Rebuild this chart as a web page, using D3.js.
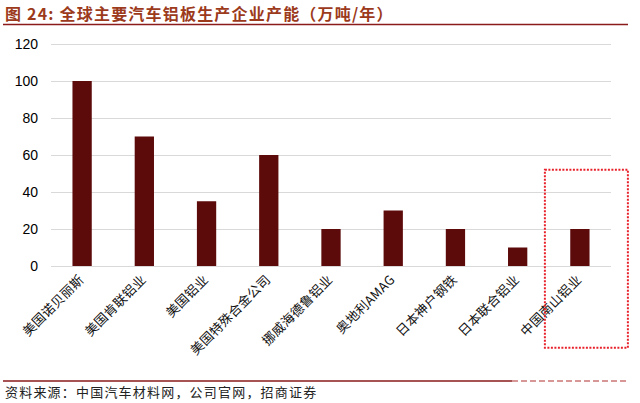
<!DOCTYPE html>
<html>
<head>
<meta charset="utf-8">
<script src="https://cdn.jsdelivr.net/npm/d3@7"></script>
<style>
  body { margin: 0; background: #fff; }
  svg { display: block; }
</style>
</head>
<body>
<div id="chart"></div>
<script>
const companies = ['美国诺贝丽斯', '美国肯联铝业', '美国铝业', '美国特殊合金公司', '挪威海德鲁铝业',
    '奥地利AMAG', '日本神户钢铁', '日本联合铝业', '中国南山铝业']
const capacity = [100, 70, 35, 60, 20, 30, 20, 10, 20]
const yTicks = [0, 20, 40, 60, 80, 100, 120]

const titleText = '图 24:  全球主要汽车铝板生产企业产能（万吨/年）'
const sourceText = '资料来源：中国汽车材料网，公司官网，招商证券'

const W = 640, H = 403
let margin = { top: 44, right: 29, bottom: 137, left: 51 },
    width = W - margin.left - margin.right,
    height = H - margin.top - margin.bottom

const svg = d3.select('#chart').append('svg')
    .attr('width', W)
    .attr('height', H)

// title + rule
svg.append('text')
    .attr('x', 5).attr('y', 20)
    .attr('font-family', '"Noto Sans CJK SC", sans-serif')
    .attr('font-size', 16).attr('font-weight', 'bold')
    .attr('letter-spacing', 1.2)
    .attr('fill', '#9c3a1c')
    .text(titleText)
svg.append('line')
    .attr('x1', 3).attr('x2', 628).attr('y1', 24.5).attr('y2', 24.5)
    .attr('stroke', '#8b1a1a').attr('stroke-width', 1.5)

const g = svg.append('g')
    .attr('transform', 'translate(' + margin.left + ',' + margin.top + ')')

let x = d3.scaleBand()
    .domain(companies)
    .range([0, width])
    .paddingInner(0.69)
    .paddingOuter(0.345)

let y = d3.scaleLinear()
    .domain([0, 120])
    .range([height, 0])

// grid lines
g.append('g')
    .call(d3.axisLeft(y).tickValues(yTicks).tickSize(-width).tickFormat(''))
    .call(a => {
        a.select('.domain').remove()
        a.selectAll('.tick line').attr('stroke', '#d9d9d9').attr('stroke-width', 1.2)
    })

// y labels
g.append('g')
    .call(d3.axisLeft(y).tickValues(yTicks).tickSize(0).tickPadding(13))
    .call(a => {
        a.select('.domain').remove()
        a.selectAll('.tick text')
            .attr('font-family', '"Liberation Sans", Arial, sans-serif')
            .attr('font-size', 14).attr('fill', '#000')
    })

// bars
g.selectAll('rect.bar')
    .data(companies)
    .enter().append('rect')
    .attr('class', 'bar')
    .attr('x', d => x(d))
    .attr('width', x.bandwidth())
    .attr('y', (d, i) => y(capacity[i]))
    .attr('height', (d, i) => y(0) - y(capacity[i]))
    .attr('fill', '#5c0a0a')

// x labels, rotated
g.append('g')
    .attr('transform', 'translate(0,' + height + ')')
    .call(d3.axisBottom(x).tickSize(0).tickFormat(d => d))
    .call(a => {
        a.select('.domain').remove()
        a.selectAll('.tick text')
            .attr('font-family', '"Noto Sans CJK SC", sans-serif')
            .attr('font-size', 13).attr('fill', '#111')
            .attr('letter-spacing', 0.3)
            .attr('text-anchor', 'end')
            .attr('x', 0).attr('y', 0).attr('dy', '0.71em')
            .attr('transform', 'translate(-4,8) rotate(-45)')
    })

// highlight box around last company
let last = companies[companies.length - 1]
g.append('rect')
    .attr('x', x(last) + x.bandwidth() / 2 - 35)
    .attr('y', y(52))
    .attr('width', 83)
    .attr('height', 178)
    .attr('fill', 'none')
    .attr('stroke', '#e8202a')
    .attr('stroke-width', 2)
    .attr('stroke-dasharray', '2,1.5')

// footer rule + source
svg.append('line')
    .attr('x1', 3).attr('x2', 512).attr('y1', 381).attr('y2', 381)
    .attr('stroke', '#8b1a1a').attr('stroke-width', 1.5)
svg.append('line')
    .attr('x1', 512).attr('x2', 628).attr('y1', 381).attr('y2', 381)
    .attr('stroke', '#b03030').attr('stroke-width', 1.2)
    .attr('stroke-dasharray', '6,3')
svg.append('text')
    .attr('x', 5).attr('y', 397)
    .attr('font-family', '"Noto Sans CJK SC", sans-serif')
    .attr('font-size', 13).attr('letter-spacing', 1.2).attr('fill', '#222')
    .text(sourceText)
</script>
</body>
</html>
